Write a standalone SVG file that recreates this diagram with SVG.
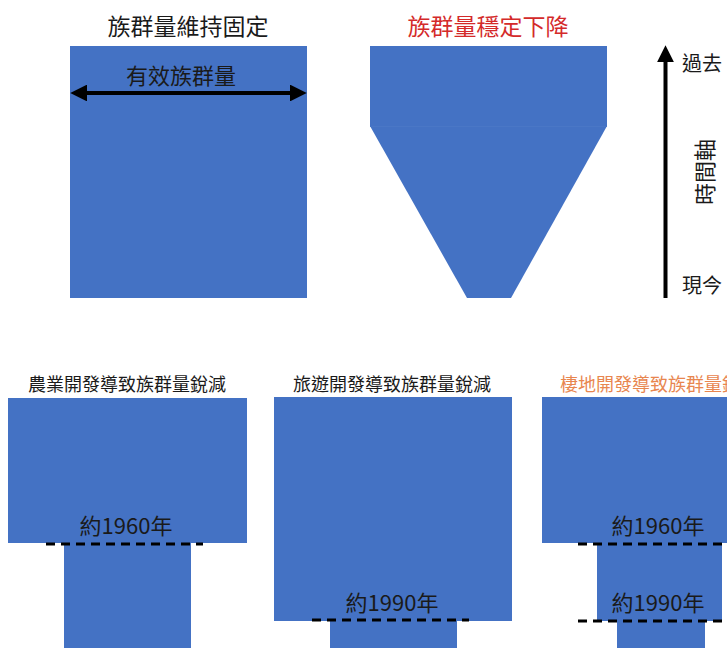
<svg xmlns="http://www.w3.org/2000/svg" width="727" height="648" viewBox="0 0 727 648">
<style>
text{font-family:"Noto Sans CJK TC","Noto Sans CJK SC",sans-serif;fill:#1a1a1a}
.blk{fill:#4472C4}
.t1{font-size:23px;text-anchor:middle}
.t2{font-size:18px;text-anchor:middle}
.yr{font-size:22px;text-anchor:middle}
.ax{font-size:20px}
.dash{stroke:#000;stroke-width:3;stroke-dasharray:9 6;fill:none}
.arr{stroke:#000;stroke-width:4;fill:none}
</style>
<defs>
<marker id="ah" viewBox="0 0 10 10" refX="3" refY="5" markerWidth="4.2" markerHeight="4.2" orient="auto-start-reverse" markerUnits="strokeWidth">
<path d="M0,0 L10,5 L0,10 z" fill="#000"/>
</marker>
</defs>
<rect width="727" height="648" fill="#fff"/>

<g id="constant">
<text class="t1" x="188" y="35">族群量維持固定</text>
<rect class="blk" x="70" y="46" width="237" height="252"/>
<text class="t1" x="181" y="84" style="font-size:22px">有效族群量</text>
</g>

<g id="decline">
<text class="t1" x="488" y="35" style="fill:#d42a2a">族群量穩定下降</text>
<rect class="blk" x="370" y="46" width="237" height="80.5"/>
<polygon class="blk" points="370,126 607,126 511,298 467,298"/>
<line x1="370" y1="126.5" x2="607" y2="126.5" stroke="#4a77c6" stroke-width="1"/>
</g>

<g id="timeaxis-labels">
<text class="ax" x="682" y="71">過去</text>
<text class="ax" x="682" y="293">現今</text>
<text style="font-size:22px" text-anchor="middle" dominant-baseline="central" transform="translate(703,172) rotate(-90)">時間軸</text>
</g>

<g id="agri">
<text class="t2" x="127" y="391">農業開發導致族群量銳減</text>
<rect class="blk" x="8" y="398" width="239" height="145"/>
<rect class="blk" x="64" y="543" width="127" height="105"/>
<text class="yr" x="126" y="534">約1960年</text>
</g>

<g id="tour">
<text class="t2" x="392" y="391">旅遊開發導致族群量銳減</text>
<rect class="blk" x="274" y="397" width="238" height="224"/>
<rect class="blk" x="330" y="621" width="127" height="27"/>
<text class="yr" x="392" y="611">約1990年</text>
</g>

<g id="habitat">
<text class="t2" x="560" y="391" style="fill:#e8864f;text-anchor:start">棲地開發導致族群量銳減</text>
<rect class="blk" x="542" y="397" width="190" height="146"/>
<rect class="blk" x="597" y="543" width="125" height="78"/>
<rect class="blk" x="617" y="621" width="88" height="27"/>
<text class="yr" x="658" y="534">約1960年</text>
<text class="yr" x="658" y="611">約1990年</text>
</g>

<g id="connectors">
<line class="arr" x1="82" y1="93" x2="295" y2="93" marker-start="url(#ah)" marker-end="url(#ah)"/>
<line class="arr" x1="665.5" y1="298" x2="665.5" y2="57" marker-end="url(#ah)"/>
<line class="dash" x1="46" y1="544" x2="203" y2="544"/>
<line class="dash" x1="312" y1="620" x2="469" y2="620"/>
<line class="dash" x1="578" y1="544" x2="727" y2="544"/>
<line class="dash" x1="578" y1="621" x2="727" y2="621"/>
</g>
</svg>
